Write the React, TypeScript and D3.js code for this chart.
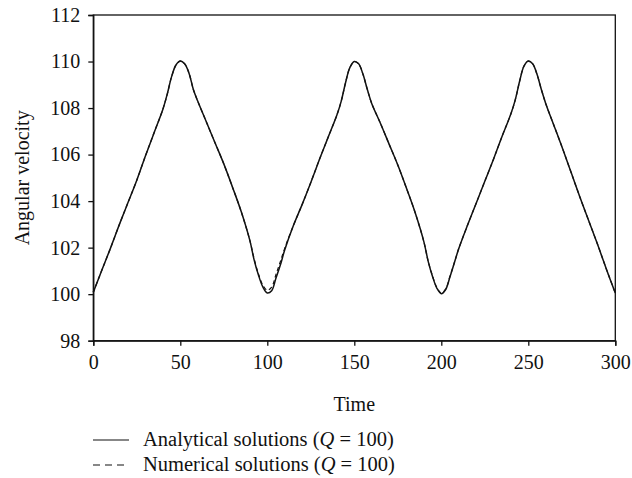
import * as d3 from "d3";
import { useEffect, useRef } from "react";

const times = [
	0, 5, 10, 15, 20, 25, 30, 35, 40, 42.5, 45, 47.5, 50, 52.5, 55, 57.5, 60, 65,
	70, 75, 80, 85, 90, 92.5, 95, 97.5, 100, 102.5, 105, 107.5, 110, 115, 120,
	125, 130, 135, 140, 142.5, 145, 147.5, 150, 152.5, 155, 157.5, 160, 165, 170,
	175, 180, 185, 190, 192.5, 195, 197.5, 200, 202.5, 205, 207.5, 210, 215, 220,
	225, 230, 235, 240, 242.5, 245, 247.5, 250, 252.5, 255, 257.5, 260, 265, 270,
	275, 280, 285, 290, 295, 300,
];
const analytical = [
	100.08, 101.05, 102.0, 103.0, 103.95, 104.9, 105.95, 106.95, 107.95, 108.6,
	109.35, 109.85, 110.02, 109.9, 109.5, 108.8, 108.3, 107.4, 106.5, 105.6,
	104.6, 103.55, 102.3, 101.45, 100.8, 100.3, 100.05, 100.15, 100.7, 101.25,
	101.9, 102.95, 103.85, 104.8, 105.8, 106.75, 107.7, 108.3, 109.1, 109.75,
	110.0, 109.9, 109.45, 108.8, 108.2, 107.35, 106.45, 105.55, 104.55, 103.5,
	102.25, 101.4, 100.75, 100.25, 100.02, 100.2, 100.75, 101.35, 101.95, 102.95,
	103.9, 104.85, 105.8, 106.8, 107.75, 108.35, 109.15, 109.8, 110.02, 109.9,
	109.45, 108.8, 108.2, 107.2, 106.2, 105.15, 104.1, 103.1, 102.1, 101.05,
	100.05,
];
const numerical = [
	100.08, 101.05, 102.0, 103.0, 103.95, 104.9, 105.95, 106.95, 107.95, 108.6,
	109.35, 109.85, 110.02, 109.9, 109.5, 108.8, 108.3, 107.4, 106.5, 105.6,
	104.6, 103.55, 102.3, 101.5, 100.85, 100.38, 100.17, 100.3, 100.85, 101.4,
	101.97, 102.95, 103.85, 104.8, 105.8, 106.75, 107.7, 108.3, 109.1, 109.75,
	110.0, 109.9, 109.45, 108.8, 108.2, 107.35, 106.45, 105.55, 104.55, 103.5,
	102.25, 101.4, 100.77, 100.28, 100.05, 100.22, 100.77, 101.35, 101.95, 102.95,
	103.9, 104.85, 105.8, 106.8, 107.75, 108.35, 109.15, 109.8, 110.02, 109.9,
	109.45, 108.8, 108.2, 107.2, 106.2, 105.15, 104.1, 103.1, 102.1, 101.05,
	100.05,
];
const xTicks = [0, 50, 100, 150, 200, 250, 300];
const yTicks = [98, 100, 102, 104, 106, 108, 110, 112];
const legendLabels = ["Analytical solutions (", "Numerical solutions ("];

const width = 632;
const height = 478;
const font = "'Liberation Serif', 'Times New Roman', serif";

function App() {
	const ref = useRef<SVGSVGElement>(null);

	useEffect(() => {
		const svg = d3.select(ref.current);
		svg.selectAll("*").remove();
		const left = 93.3;
		const right = 615.3;
		const top = 15;
		const bottom = 340.7;
		const x = d3.scaleLinear().domain([0, 300]).range([left, right]);
		const y = d3.scaleLinear().domain([98, 112]).range([bottom, top]);
		const ink = "#111";

		// frame
		svg.append("rect")
			.attr("x", left)
			.attr("y", top)
			.attr("width", right - left)
			.attr("height", bottom - top)
			.attr("fill", "none")
			.attr("stroke", ink)
			.attr("stroke-width", 1.3);

		const xAxis = svg
			.append("g")
			.attr("transform", "translate(0," + bottom + ")")
			.call(d3.axisBottom(x).tickValues(xTicks).tickSize(5).tickPadding(9));
		const yAxis = svg
			.append("g")
			.attr("transform", "translate(" + left + ",0)")
			.call(d3.axisLeft(y).tickValues(yTicks).tickSize(5).tickPadding(8));
		[xAxis, yAxis].forEach((g) => {
			g.select(".domain").attr("stroke", ink).attr("stroke-width", 1.3);
			g.selectAll(".tick line").attr("stroke", ink).attr("stroke-width", 1.3);
			g.selectAll(".tick text")
				.attr("fill", ink)
				.style("font-family", font)
				.style("font-size", "20px");
		});

		const line = d3
			.line<number>()
			.x((_, i) => x(times[i]))
			.y((d) => y(d))
			.curve(d3.curveCatmullRom.alpha(0.5));

		svg.append("path")
			.attr("d", line(numerical))
			.attr("fill", "none")
			.attr("stroke", ink)
			.attr("stroke-width", 1.2)
			.attr("stroke-dasharray", "4,3");
		svg.append("path")
			.attr("d", line(analytical))
			.attr("fill", "none")
			.attr("stroke", ink)
			.attr("stroke-width", 1.5);

		svg.append("text")
			.attr("x", (left + right) / 2)
			.attr("y", 411)
			.attr("text-anchor", "middle")
			.style("font-family", font)
			.style("font-size", "20px")
			.attr("fill", ink)
			.text("Time");

		svg.append("text")
			.attr("transform", "translate(29," + (top + bottom) / 2 + ") rotate(-90)")
			.attr("text-anchor", "middle")
			.style("font-family", font)
			.style("font-size", "20px")
			.attr("fill", ink)
			.text("Angular velocity");

		const legend = svg
			.selectAll("g.legend")
			.data(legendLabels)
			.enter()
			.append("g")
			.attr("class", "legend")
			.attr("transform", (_, i) => "translate(93," + (440 + i * 25) + ")");
		legend
			.append("line")
			.attr("x1", 0)
			.attr("x2", 36)
			.attr("stroke", ink)
			.attr("stroke-width", 1.2)
			.attr("stroke-dasharray", (_, i) => (i === 1 ? "7,5" : null));
		const label = legend
			.append("text")
			.attr("x", 50)
			.attr("y", 5.5)
			.style("font-family", font)
			.style("font-size", "20.5px")
			.attr("fill", ink);
		label.append("tspan").text((d) => d);
		label.append("tspan").attr("font-style", "italic").text("Q");
		label.append("tspan").text(" = 100)");
	}, []);

	return (
		<svg
			ref={ref}
			width={width}
			height={height}
			style={{ position: "absolute", left: 0, top: 0, background: "#fff" }}
		/>
	);
}

export default App;
